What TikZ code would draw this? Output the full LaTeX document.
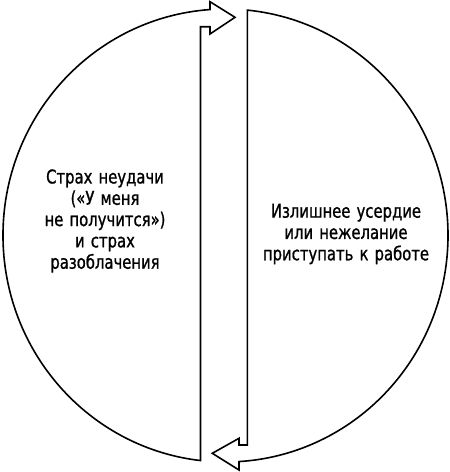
\documentclass[tikz,border=0pt]{standalone}
\usepackage{fontspec}
\setmainfont[FakeStretch=0.78,FakeBold=1,WordSpace=1.3]{DejaVu Sans}
\usetikzlibrary{positioning}

\begin{document}
\begin{tikzpicture}[x=1pt,y=-1pt,demi/.style={draw,line width=1.6pt,line join=miter},texte/.style={align=center,font=\fontsize{19}{21.3}\selectfont}]
\useasboundingbox (0,0) rectangle (450,472);
\draw[demi] (210,9.55) arc[start angle=266.01,end angle=96.45,x radius=222.5,y radius=226.5] -- (200.5,26.7) -- (210,26.7) -- (210,34) -- (235,17.3) -- (210,1.7) -- cycle;
\draw[demi] (247.3,10.1) arc[start angle=-84.38,end angle=86.52,x radius=222.5,y radius=226.5] -- (239,470) -- (212.3,453.3) -- (239,438.3) -- (239,445) -- (247.3,445) -- cycle;

\node[texte] (peur) at (105,221) {Страх неудачи\\(«У меня\\не получится»)\\и страх\\разоблачения};
\node[texte] (zele) at (346,234) {Излишнее усердие\\или нежелание\\приступать к работе};
\end{tikzpicture}
\end{document}
